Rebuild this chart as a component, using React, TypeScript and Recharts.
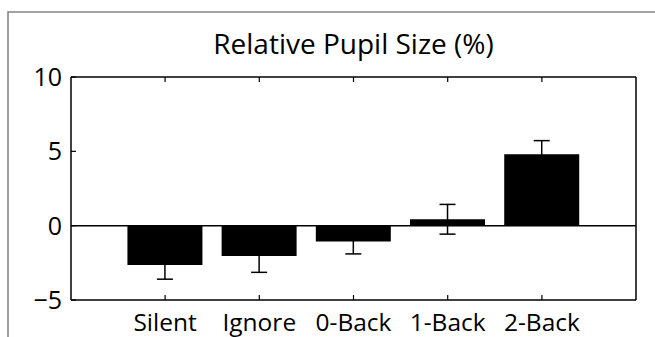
import React from 'react';
import { BarChart, Bar, XAxis, YAxis, ErrorBar, ReferenceLine } from 'recharts';

// Task conditions and mean relative pupil size change (%) with standard error
const categories = ['Silent', 'Ignore', '0-Back', '1-Back', '2-Back'];
const pupilChange = [-2.65, -2.04, -1.07, 0.43, 4.8];
const pupilError = [0.95, 1.1, 0.83, 1.0, 0.92];
const yTicks = [-5, 0, 5, 10];

const rows = categories.map((name, i) => ({ name, value: pupilChange[i], err: pupilError[i] }));

const FONT = '"Open Sans", sans-serif';
const W = 655;
const H = 337;

export default function App() {
  const axisLine = { stroke: '#000', strokeWidth: 1.5 };
  const tickLine = { stroke: '#000', strokeWidth: 1.2 };
  const blank = () => '';
  return (
    <div style={{ position: 'absolute', left: 0, top: 0, width: W, height: H, background: '#fff', overflow: 'hidden' }}>
      <svg width={W} height={H} style={{ position: 'absolute', left: 0, top: 0 }}>
        <path d={`M8 ${H} L8 12 L${W} 12`} fill="none" stroke="#858585" strokeWidth={1.6} />
        <text x={353.5} y={54.3} textAnchor="middle" fontFamily={FONT} fontSize={28} fill="#000">
          Relative Pupil Size (%)
        </text>
      </svg>
      <div style={{ position: 'absolute', left: 0, top: 0 }}>
        <BarChart
          width={W}
          height={H}
          data={rows}
          margin={{ top: 67, right: 9, bottom: 0, left: 11 }}
          barCategoryGap="10%"
        >
          <XAxis
            dataKey="name"
            height={37}
            interval={0}
            padding={{ left: 47, right: 47 }}
            axisLine={axisLine}
            tickLine={tickLine}
            tickSize={-5}
            tickMargin={18.5}
            tick={{ fill: '#000', fontSize: 24.5, fontFamily: FONT }}
          />
          <XAxis
            xAxisId="top"
            orientation="top"
            dataKey="name"
            height={10}
            interval={0}
            padding={{ left: 47, right: 47 }}
            axisLine={axisLine}
            tickLine={tickLine}
            tickSize={-5}
            tickFormatter={blank}
          />
          <YAxis
            width={60}
            domain={[-5, 10]}
            ticks={yTicks}
            interval={0}
            allowDataOverflow
            axisLine={axisLine}
            tickLine={tickLine}
            tickSize={-5}
            tickMargin={14}
            tickFormatter={(v: number) => (v < 0 ? `\u2212${Math.abs(v)}` : `${v}`)}
            tick={{ fill: '#000', fontSize: 25, fontFamily: FONT }}
          />
          <YAxis
            yAxisId="right"
            orientation="right"
            width={10}
            domain={[-5, 10]}
            ticks={yTicks}
            interval={0}
            axisLine={axisLine}
            tickLine={tickLine}
            tickSize={-5}
            tickFormatter={blank}
          />
          <ReferenceLine y={0} stroke="#000" strokeWidth={1.5} />
          <Bar dataKey="value" fill="#000" isAnimationActive={false}>
            <ErrorBar dataKey="err" width={8} stroke="#000" strokeWidth={1.5} />
          </Bar>
        </BarChart>
      </div>
    </div>
  );
}
